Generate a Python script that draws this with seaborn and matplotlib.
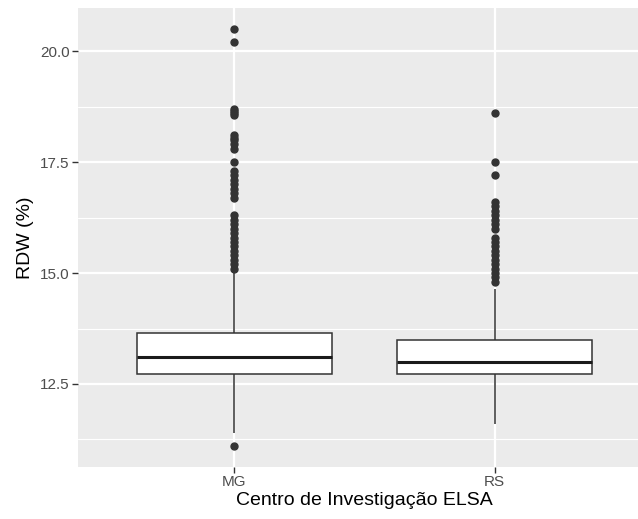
import numpy as np
import pandas as pd
import matplotlib
matplotlib.use("Agg")
import matplotlib.pyplot as plt
import seaborn as sns

# Centros ELSA
centros = ["MG", "RS"]

mg_core_vals = [11.4, 12.0, 12.72, 13.1, 13.65, 14.3, 15.0]
mg_core_cnts = [1, 40, 60, 100, 60, 40, 1]
mg_outliers = [11.1, 20.5, 20.2, 18.7, 18.65, 18.6, 18.55, 18.1, 18.05, 18.0,
               17.9, 17.8, 17.5, 17.3, 17.2, 17.1, 17.0, 16.9, 16.8, 16.7,
               16.3, 16.2, 16.1, 16.0, 15.9, 15.8, 15.7, 15.6, 15.5, 15.4,
               15.3, 15.2, 15.1]

# RS: Q1 ~12.72, median ~13.0, Q3 ~13.5
rs_core_vals = [11.6, 12.2, 12.72, 13.0, 13.5, 14.1, 14.65]
rs_core_cnts = [1, 40, 60, 100, 60, 40, 1]
rs_outliers = [18.6, 17.5, 17.2, 16.6, 16.5, 16.4, 16.3, 16.2, 16.1, 16.0,
               15.8, 15.7, 15.6, 15.5, 15.4, 15.3, 15.2, 15.1, 15.0, 14.9, 14.8]

mg = list(np.repeat(mg_core_vals, mg_core_cnts)) + mg_outliers
rs = list(np.repeat(rs_core_vals, rs_core_cnts)) + rs_outliers
df = pd.DataFrame({
    "centro": ["MG"] * len(mg) + ["RS"] * len(rs),
    "rdw": mg + rs,
})

sns.set_theme(style="darkgrid", rc={
    "axes.facecolor": "#EBEBEB",
    "grid.color": "white",
    "axes.edgecolor": "#EBEBEB",
})
plt.rcParams["font.family"] = ["Liberation Sans", "DejaVu Sans"]

fig = plt.figure(figsize=(6.38, 5.19), dpi=100)
ax = fig.add_axes([78 / 638, 1 - 467 / 519, 573 / 638, 459 / 519])

sns.boxplot(data=df, x="centro", y="rdw", order=centros, ax=ax,
            color="white", linecolor="#333333", linewidth=1.1, width=0.75,
            fliersize=5,
            flierprops=dict(marker="o", markerfacecolor="#333333",
                            markeredgecolor="#333333"),
            medianprops=dict(linewidth=2.2, color="#1a1a1a"),
            capprops=dict(linewidth=0))

ax.set_xlim(-0.6, 1.6)
ax.set_ylim(10.63, 20.97)
ax.set_yticks([12.5, 15.0, 17.5, 20.0])
ax.set_yticklabels(["12.5", "15.0", "17.5", "20.0"])
ax.set_yticks([11.25, 13.75, 16.25, 18.75], minor=True)
ax.grid(True, which="major", color="white", linewidth=1.6)
ax.grid(True, which="minor", axis="y", color="white", linewidth=0.8)
ax.set_axisbelow(True)
for s in ax.spines.values():
    s.set_visible(False)

ax.tick_params(axis="both", which="major", labelsize=11, labelcolor="#4D4D4D",
               color="#333333", length=4, width=1.0, pad=2, left=True, bottom=True)
ax.tick_params(axis="both", which="minor", length=0)

ax.set_xlabel("Centro de Investigação ELSA", fontsize=14, color="black", labelpad=2)
ax.set_ylabel("RDW (%)", fontsize=14, color="black", labelpad=4)

fig.savefig("out.png", dpi=100)
